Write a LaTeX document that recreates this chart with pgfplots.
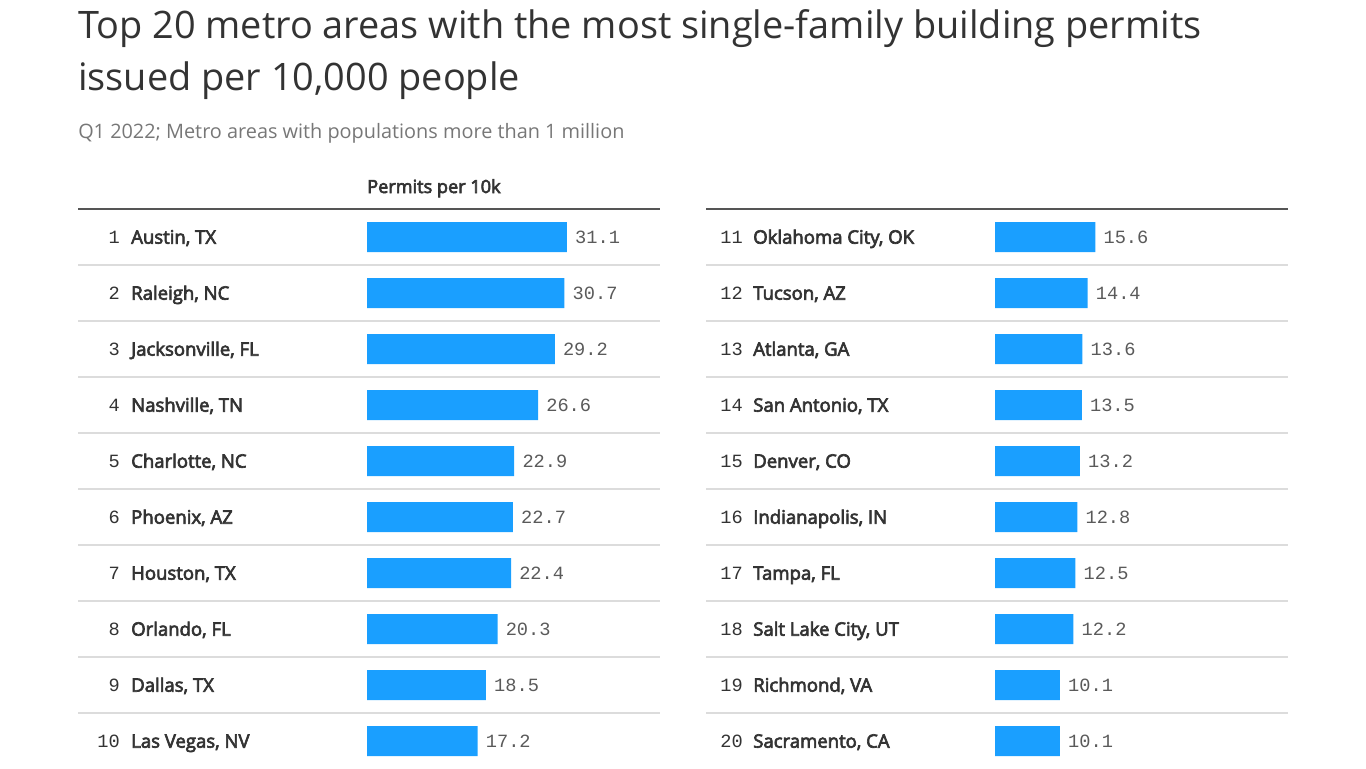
\documentclass[border=0pt]{standalone}
\usepackage{fontspec}
\setmainfont{Open Sans}
\newfontfamily\medfont{Open Sans}[FakeBold=3.5]
\newfontfamily\monofont{Liberation Mono}
\usepackage{pgfplots}
\usepackage{pgfplotstable}
\pgfplotsset{compat=1.18}
\definecolor{barblue}{HTML}{1A9FFF}
\definecolor{titlegray}{HTML}{333333}
\definecolor{subgray}{HTML}{777777}
\definecolor{valgray}{HTML}{5A5A5A}
\definecolor{rulegray}{HTML}{DCDCDC}
\definecolor{topgray}{HTML}{555555}

\pgfplotstableread[col sep=semicolon]{
pos;rank;name;val
1;1;Austin, TX;31.1
2;2;Raleigh, NC;30.7
3;3;Jacksonville, FL;29.2
4;4;Nashville, TN;26.6
5;5;Charlotte, NC;22.9
6;6;Phoenix, AZ;22.7
7;7;Houston, TX;22.4
8;8;Orlando, FL;20.3
9;9;Dallas, TX;18.5
10;10;Las Vegas, NV;17.2
}\lefttab

\pgfplotstableread[col sep=semicolon]{
pos;rank;name;val
1;11;Oklahoma City, OK;15.6
2;12;Tucson, AZ;14.4
3;13;Atlanta, GA;13.6
4;14;San Antonio, TX;13.5
5;15;Denver, CO;13.2
6;16;Indianapolis, IN;12.8
7;17;Tampa, FL;12.5
8;18;Salt Lake City, UT;12.2
9;19;Richmond, VA;10.1
10;20;Sacramento, CA;10.1
}\righttab

\pgfplotsset{
  tabstyle/.style={
    scale only axis, width=436.5pt, height=420pt,
    xmin=-44.95, xmax=45.57, ymin=0.5, ymax=10.5, y dir=reverse,
    axis line style={draw=none}, tick style={draw=none},
    xtick=\empty, ytick={1.5,2.5,...,9.5}, yticklabels={},
    ymajorgrids, grid style={rulegray, line width=1pt},
    extra y ticks={0.5}, extra y tick labels={},
    extra y tick style={grid style={topgray, line width=1pt}},
    clip=false, anchor=north west,
  },
  barplot/.style={xbar, bar width=22.5pt, fill=barblue, draw=none,
    point meta=explicit symbolic, nodes near coords,
    nodes near coords align={anchor=base west},
    every node near coord/.append style={font=\monofont\fontsize{14}{14}\selectfont,
      text=valgray, inner sep=0pt, xshift=6pt, yshift=-4.6pt}},
  nameplot/.style={draw=none, mark=none,
    point meta=explicit symbolic, nodes near coords,
    nodes near coords align={anchor=base west},
    every node near coord/.append style={font=\medfont\fontsize{13.9}{14}\selectfont,
      text=titlegray, inner sep=0pt, yshift=-5pt}},
  rankplot/.style={draw=none, mark=none,
    point meta=explicit symbolic, nodes near coords,
    nodes near coords align={anchor=base east},
    every node near coord/.append style={font=\monofont\fontsize{14}{14}\selectfont,
      text=titlegray, inner sep=0pt, yshift=-4.6pt}},
}

\begin{document}
\begin{tikzpicture}
\path[use as bounding box] (0,0) rectangle (1024.5pt,-576pt);
\node[anchor=base west, inner sep=0pt, text=titlegray, font=\fontsize{28.4}{30}\selectfont]
  at (58.5pt,-28.7pt) {Top 20 metro areas with the most single-family building permits};
\node[anchor=base west, inner sep=0pt, text=titlegray, font=\fontsize{28.4}{30}\selectfont]
  at (58.5pt,-68pt) {issued per 10,000 people};
\node[anchor=base west, inner sep=0pt, text=subgray, font=\fontsize{14.9}{16}\selectfont]
  at (58.5pt,-103.7pt) {Q1 2022; Metro areas with populations more than 1 million};

\begin{axis}[tabstyle, at={(58.5pt,-156.75pt)}]
  \addplot[barplot] table[x=val, y=pos, meta=val] {\lefttab};
  \addplot[nameplot] table[x expr=-36.71, y=pos, meta=name] {\lefttab};
  \addplot[rankplot] table[x expr=-38.42, y=pos, meta=rank] {\lefttab};
  \node[anchor=base west, inner sep=0pt, text=titlegray, font=\medfont\fontsize{13.6}{14}\selectfont,
    yshift=12pt] at (axis cs:0,0.5) {Permits per 10k};
\end{axis}

\begin{axis}[tabstyle, at={(529.5pt,-156.75pt)}]
  \addplot[barplot] table[x=val, y=pos, meta=val] {\righttab};
  \addplot[nameplot] table[x expr=-37.64, y=pos, meta=name] {\righttab};
  \addplot[rankplot] table[x expr=-39.2, y=pos, meta=rank] {\righttab};
\end{axis}
\end{tikzpicture}
\end{document}
